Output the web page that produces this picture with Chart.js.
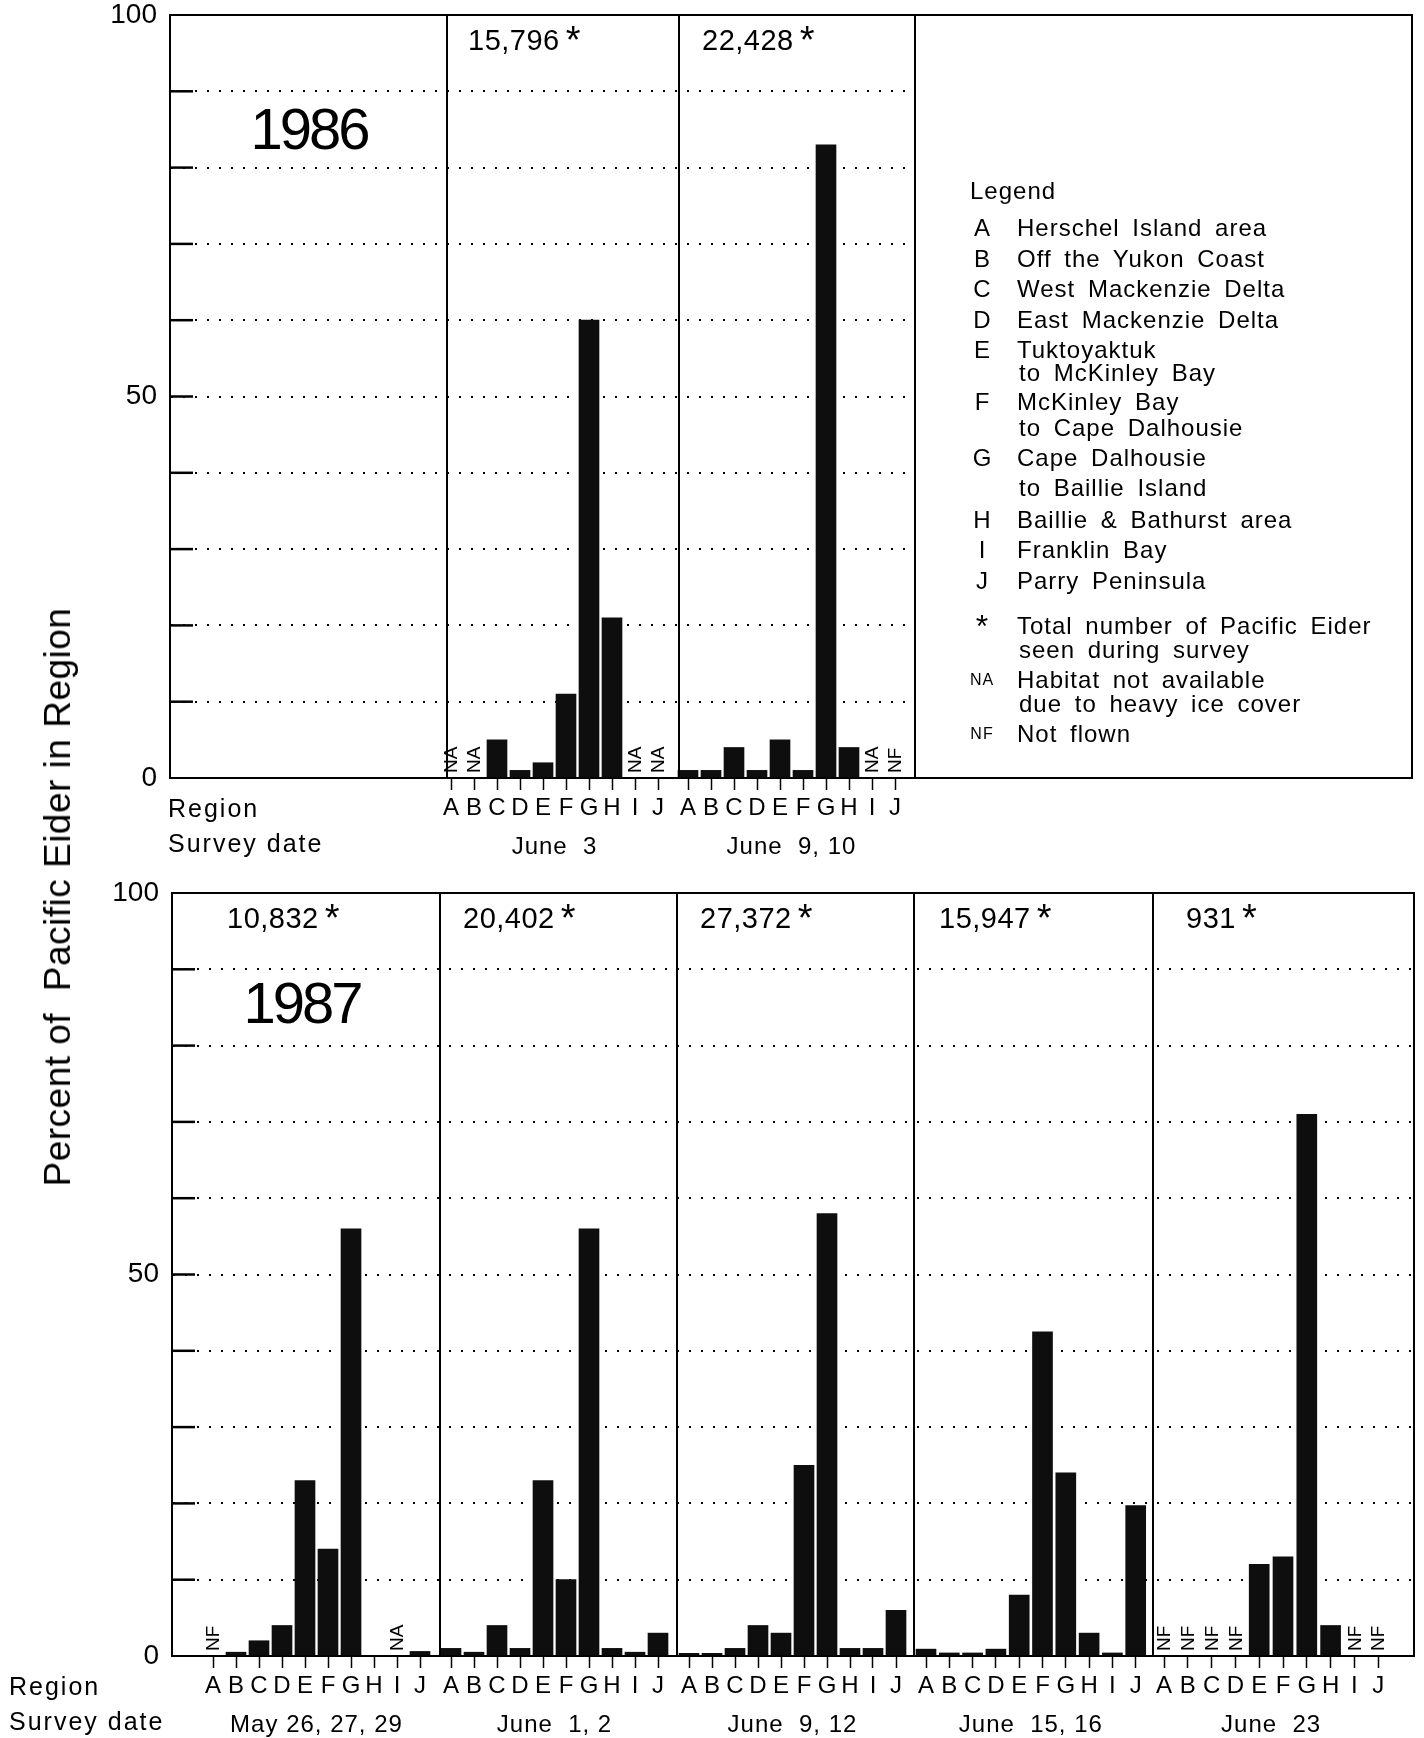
<!DOCTYPE html>
<html>
<head>
<meta charset="utf-8">
<script src="https://cdn.jsdelivr.net/npm/chart.js@4.4.1/dist/chart.umd.min.js"></script>
<style>
  html, body { margin: 0; padding: 0; background: #fff; }
  body { width: 1424px; height: 1738px; position: relative; overflow: hidden;
         font-family: "Liberation Sans", Arial, Helvetica, sans-serif; color: #000; }
  canvas { position: absolute; left: 0; }
  #ytitle { position: absolute; left: 58px; top: 897px; transform: translate(-50%, -50%) rotate(-90deg);
            font-size: 37px; white-space: pre; letter-spacing: 0.5px; }
  #legendBox { position: absolute; left: 916px; top: 14px; width: 497px; height: 765px;
               border: 2px solid #000; border-left: none; box-sizing: border-box; }
  .lg { position: absolute; font-size: 24px; line-height: 26px; letter-spacing: 1px; word-spacing: 5px; white-space: pre; }
  .key { position: absolute; width: 36px; text-align: center; font-size: 24px; line-height: 26px; }
  .key.small { font-size: 16px; letter-spacing: 1px; }
  .key.star { font-size: 32px; }
</style>
</head>
<body>
<canvas id="top" width="1424" height="870" style="top:0px"></canvas>
<canvas id="bottom" width="1424" height="868" style="top:870px"></canvas>
<div id="ytitle">Percent of  Pacific Eider in Region</div>
<div id="legendBox"></div>
<div id="legend"></div>
<script>
// regions along each survey
const regions = ['A', 'B', 'C', 'D', 'E', 'F', 'G', 'H', 'I', 'J'];

// 1986 surveys (percent of birds per region, null = no bar)
const dates1986 = ['June  3', 'June  9, 10'];
const totals1986 = ['15,796', '22,428'];
const june3_1986 = [null, null, 5, 1, 2, 11, 60, 21, null, null];
const june3_1986Notes = ['NA', 'NA', '', '', '', '', '', '', 'NA', 'NA'];
const june9_1986 = [1, 1, 4, 1, 5, 1, 83, 4, null, null];
const june9_1986Notes = ['', '', '', '', '', '', '', '', 'NA', 'NF'];

// 1987 surveys
const dates1987 = ['May 26, 27, 29', 'June  1, 2', 'June  9, 12', 'June  15, 16', 'June  23'];
const totals1987 = ['10,832', '20,402', '27,372', '15,947', '931'];
const may26_1987 = [null, 0.5, 2, 4, 23, 14, 56, 0, null, 0.6];
const may26_1987Notes = ['NF', '', '', '', '', '', '', '', 'NA', ''];
const june1_1987 = [1, 0.5, 4, 1, 23, 10, 56, 1, 0.5, 3];
const june1_1987Notes = ['', '', '', '', '', '', '', '', '', ''];
const june9_1987 = [0.35, 0.35, 1, 4, 3, 25, 58, 1, 1, 6];
const june9_1987Notes = ['', '', '', '', '', '', '', '', '', ''];
const june15_1987 = [0.9, 0.4, 0.4, 0.9, 8, 42.5, 24, 3, 0.4, 19.7];
const june15_1987Notes = ['', '', '', '', '', '', '', '', '', ''];
const june23_1987 = [null, null, null, null, 12, 13, 71, 4, null, null];
const june23_1987Notes = ['NF', 'NF', 'NF', 'NF', '', '', '', '', 'NF', 'NF'];

const yTicks = [0, 50, 100];

const legendItems = [
  ['A', ['Herschel Island area']],
  ['B', ['Off the Yukon Coast']],
  ['C', ['West Mackenzie Delta']],
  ['D', ['East Mackenzie Delta']],
  ['E', ['Tuktoyaktuk', 'to McKinley Bay']],
  ['F', ['McKinley Bay', 'to Cape Dalhousie']],
  ['G', ['Cape Dalhousie', 'to Baillie Island']],
  ['H', ['Baillie & Bathurst area']],
  ['I', ['Franklin Bay']],
  ['J', ['Parry Peninsula']],
  ['*', ['Total number of Pacific Eider', 'seen during survey']],
  ['NA', ['Habitat not available', 'due to heavy ice cover']],
  ['NF', ['Not flown']]
];
// vertical centre of each legend line
const legendLineY = [[228], [259], [289], [320], [350, 373], [402, 428], [458, 488],
                     [520], [550], [581], [626, 650], [680, 704], [734]];

Chart.defaults.font.family = '"Liberation Sans", Arial, Helvetica, sans-serif';
Chart.defaults.color = '#000';

const font = '"Liberation Sans", Arial, sans-serif';
const barColor = '#0e0e0e';

const rows = [
  {
    canvas: 'top', canvasTop: 0, canvasHeight: 870,
    areaLeft: 170, areaRight: 915, areaTop: 15, baseline: 778,
    dividers: [277, 509, 745], year: '1986', yearX: 139, yearY: 84.6, labelX: 168,
    surveys: [
      { values: june3_1986, notes: june3_1986Notes, total: totals1986[0], date: dates1986[0], first: 281, step: 23, totalX: 298 },
      { values: june9_1986, notes: june9_1986Notes, total: totals1986[1], date: dates1986[1], first: 518, step: 23, totalX: 532 }
    ]
  },
  {
    canvas: 'bottom', canvasTop: 870, canvasHeight: 868,
    areaLeft: 172, areaRight: 1414, areaTop: 893, baseline: 1656,
    dividers: [268, 505, 742, 981, 1242], year: '1987', yearX: 130, yearY: 85.0, labelX: 9,
    surveys: [
      { values: may26_1987, notes: may26_1987Notes, total: totals1987[0], date: dates1987[0], first: 41, step: 23, totalX: 55 },
      { values: june1_1987, notes: june1_1987Notes, total: totals1987[1], date: dates1987[1], first: 279, step: 23, totalX: 291 },
      { values: june9_1987, notes: june9_1987Notes, total: totals1987[2], date: dates1987[2], first: 517, step: 23, totalX: 528 },
      { values: june15_1987, notes: june15_1987Notes, total: totals1987[3], date: dates1987[3], first: 754, step: 23.3, totalX: 767 },
      { values: june23_1987, notes: june23_1987Notes, total: totals1987[4], date: dates1987[4], first: 992, step: 23.8, totalX: 1014 }
    ]
  }
];

function frame(row) {
  return {
    id: 'frame_' + row.canvas,
    afterDraw(chart) {
      const ctx = chart.ctx;
      const a = chart.chartArea;
      const x = chart.scales.x, y = chart.scales.y;
      const line = (x1, y1, x2, y2, w) => {
        ctx.lineWidth = w; ctx.beginPath(); ctx.moveTo(x1, y1); ctx.lineTo(x2, y2); ctx.stroke();
      };
      const spacing = s => { try { ctx.letterSpacing = s; } catch (e) {} };
      ctx.save();
      ctx.strokeStyle = '#000';
      ctx.fillStyle = '#000';
      // top border and inner tick marks
      line(a.left - 1, y.getPixelForValue(100), a.right + 1, y.getPixelForValue(100), 2);
      for (let v = 10; v < 100; v += 10) {
        const py = y.getPixelForValue(v);
        line(a.left, py, a.left + 23, py, 2.5);
      }
      row.dividers.forEach(d => {
        const px = x.getPixelForValue(d);
        line(px, a.top, px, a.bottom, 2);
      });

      // year
      ctx.font = '58px ' + font;
      ctx.textAlign = 'center';
      ctx.textBaseline = 'middle';
      spacing('-3px');
      ctx.fillText(row.year, x.getPixelForValue(row.yearX), y.getPixelForValue(row.yearY));

      // row captions
      const base = y.getPixelForValue(0);
      ctx.textAlign = 'left';
      ctx.textBaseline = 'alphabetic';
      ctx.font = '25px ' + font;
      spacing('2px');
      ctx.fillText('Region', row.labelX, base + 39);
      ctx.fillText('Survey date', row.labelX, base + 74);

      row.surveys.forEach(s => {
        const firstX = x.getPixelForValue(s.first);
        const lastX = x.getPixelForValue(s.first + 9 * s.step);
        // date
        ctx.font = '24px ' + font;
        spacing('1px');
        ctx.textAlign = 'center';
        ctx.fillText(s.date, (firstX + lastX) / 2, base + 76);
        // total with asterisk
        spacing('0.5px');
        ctx.textAlign = 'left';
        ctx.font = '29px ' + font;
        const tx = x.getPixelForValue(s.totalX);
        const ty = y.getPixelForValue(100) + 35;
        ctx.fillText(s.total, tx, ty);
        const w = ctx.measureText(s.total).width;
        ctx.font = '38px ' + font;
        ctx.fillText('*', tx + w + 6, ty + 3);
        // NA / NF notes
        spacing('0px');
        ctx.font = '19px ' + font;
        ctx.textBaseline = 'middle';
        s.notes.forEach((n, i) => {
          if (!n) return;
          const px = x.getPixelForValue(s.first + i * s.step);
          ctx.save();
          ctx.translate(px + 1, base - 5);
          ctx.rotate(-Math.PI / 2);
          ctx.fillText(n, 0, 0);
          ctx.restore();
        });
        ctx.textBaseline = 'alphabetic';
      });
      ctx.restore();
    }
  };
}

function buildRow(row) {
  const xAxisH = 50;
  const areaW = row.areaRight - row.areaLeft;
  const positions = [];
  const datasets = row.surveys.map(s => {
    const xs = s.values.map((v, i) => s.first + i * s.step);
    positions.push(...xs);
    return {
      data: s.values.map((v, i) => ({ x: xs[i], y: v })),
      backgroundColor: barColor,
      borderWidth: 0,
      barThickness: 20,
      grouped: false
    };
  });

  new Chart(document.getElementById(row.canvas).getContext('2d'), {
    type: 'bar',
    data: { datasets: datasets },
    options: {
      responsive: false,
      animation: false,
      events: [],
      devicePixelRatio: 1,
      layout: {
        padding: {
          left: 0,
          top: row.areaTop - row.canvasTop,
          right: 1424 - row.areaRight,
          bottom: row.canvasTop + row.canvasHeight - row.baseline - xAxisH
        }
      },
      plugins: { legend: { display: false }, tooltip: { enabled: false } },
      scales: {
        x: {
          type: 'linear',
          min: 0,
          max: areaW,
          offset: false,
          afterBuildTicks: sc => { sc.ticks = positions.map(v => ({ value: v })); },
          afterFit: sc => { sc.height = xAxisH; sc.paddingLeft = 0; sc.paddingRight = 0; },
          grid: { display: true, offset: false, drawOnChartArea: false, drawTicks: true,
                  tickLength: 12, tickColor: '#000', tickWidth: 1.5, color: '#000' },
          border: { display: true, color: '#000', width: 2 },
          ticks: {
            autoSkip: false, maxRotation: 0, minRotation: 0, padding: 4,
            font: { size: 24 }, color: '#000',
            callback: (v, i) => regions[i % regions.length]
          }
        },
        y: {
          min: 0,
          max: 100,
          afterFit: sc => { sc.width = row.areaLeft; sc.paddingTop = 0; sc.paddingBottom = 0; },
          grid: {
            drawTicks: false,
            lineWidth: 2,
            color: c => (c.tick && (c.tick.value === 0 || c.tick.value === 100)) ? 'rgba(0,0,0,0)' : '#000'
          },
          border: { display: true, color: '#000', width: 2, dash: [2, 10] },
          ticks: {
            stepSize: 10, padding: 13, color: '#000',
            font: { size: 28, lineHeight: 1 },
            callback: v => yTicks.includes(v) ? String(v) : ''
          }
        }
      }
    },
    plugins: [frame(row)]
  });
}

rows.forEach(buildRow);

// legend panel
const legend = document.getElementById('legend');
function addDiv(cls, text, left, top) {
  const d = document.createElement('div');
  d.className = cls;
  d.textContent = text;
  d.style.left = left + 'px';
  d.style.top = top + 'px';
  legend.appendChild(d);
}
addDiv('lg', 'Legend', 970, 191 - 13);
legendItems.forEach((item, k) => {
  const ys = legendLineY[k];
  let cls = 'key';
  if (item[0] === '*') cls += ' star';
  else if (item[0].length > 1) cls += ' small';
  addDiv(cls, item[0], 964, ys[0] - 13);
  item[1].forEach((t, j) => {
    addDiv('lg', t, j === 0 ? 1017 : 1019, ys[j] - 13);
  });
});
</script>
</body>
</html>
